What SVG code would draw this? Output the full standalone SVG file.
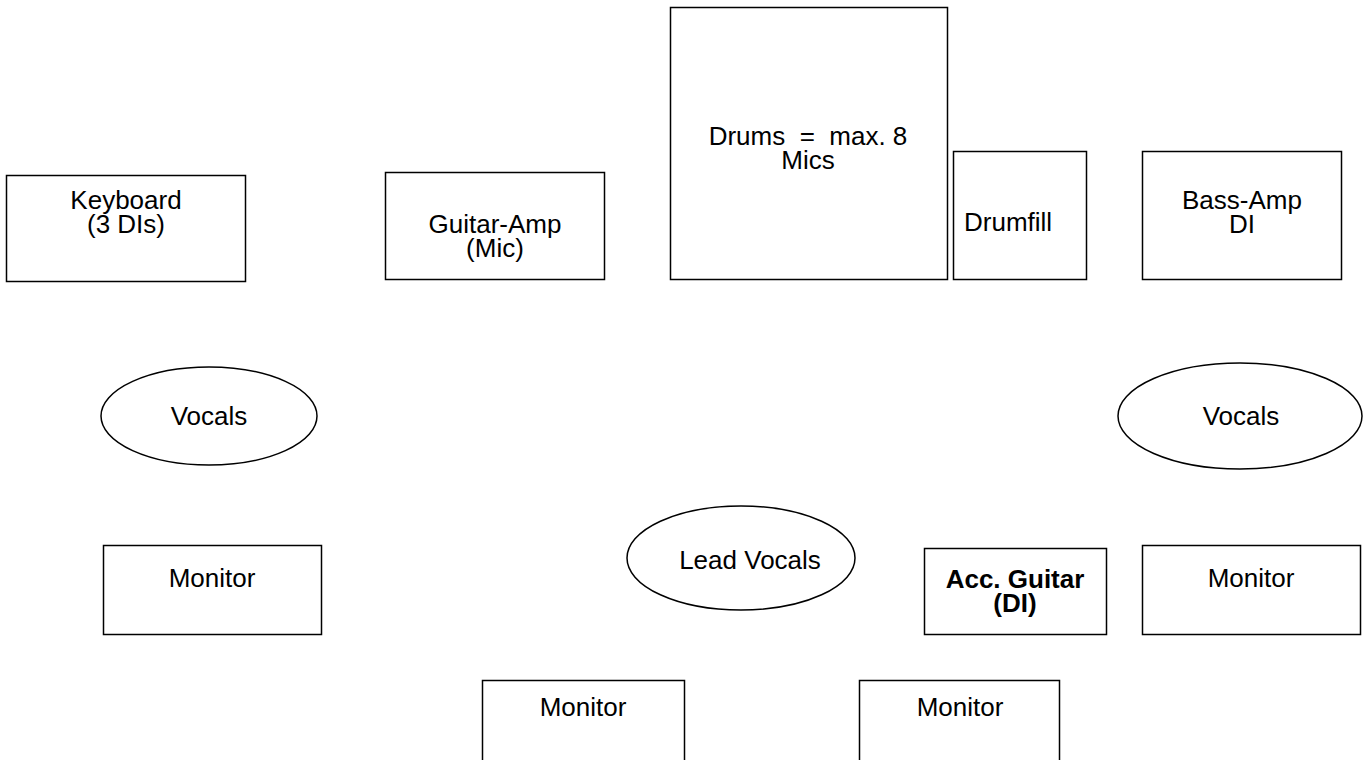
<svg xmlns="http://www.w3.org/2000/svg" width="1363" height="760" viewBox="0 0 1363 760">
<style>
.n{fill:#fff;stroke:#000;stroke-width:1.5}
.t{font-family:"Liberation Sans",Arial,sans-serif;font-size:26px;fill:#000;text-anchor:middle}
.s{text-anchor:start}
.b{font-weight:bold}
</style>
<rect width="1363" height="760" fill="#fff"/>
<g id="connectors"></g>
<g id="keyboard"><rect class="n" x="6.5" y="175.5" width="239" height="106"/><text class="t" x="126" y="209">Keyboard</text><text class="t" x="126" y="233">(3 DIs)</text></g>
<g id="guitar-amp"><rect class="n" x="385.5" y="172.5" width="219" height="107"/><text class="t" x="495" y="233">Guitar-Amp</text><text class="t" x="495" y="257">(Mic)</text></g>
<g id="drums"><rect class="n" x="670.5" y="7.5" width="277" height="272"/><text class="t" x="808" y="145" xml:space="preserve">Drums  =  max. 8</text><text class="t" x="808" y="169">Mics</text></g>
<g id="drumfill"><rect class="n" x="953.5" y="151.5" width="133" height="128"/><text class="t s" x="964" y="231">Drumfill</text></g>
<g id="bass-amp"><rect class="n" x="1142.5" y="151.5" width="199" height="128"/><text class="t" x="1242" y="209">Bass-Amp</text><text class="t" x="1242" y="233">DI</text></g>
<g id="vocals-left"><ellipse class="n" cx="209" cy="416" rx="108" ry="49"/><text class="t" x="209" y="425">Vocals</text></g>
<g id="vocals-right"><ellipse class="n" cx="1240" cy="416" rx="122" ry="53"/><text class="t" x="1241" y="425">Vocals</text></g>
<g id="monitor-left"><rect class="n" x="103.5" y="545.5" width="218" height="89"/><text class="t" x="212" y="587">Monitor</text></g>
<g id="lead-vocals"><ellipse class="n" cx="741" cy="558" rx="114" ry="52"/><text class="t" x="750" y="569">Lead Vocals</text></g>
<g id="acc-guitar"><rect class="n" x="924.5" y="548.5" width="182" height="86"/><text class="t b" x="1015" y="588">Acc. Guitar</text><text class="t b" x="1015" y="612">(DI)</text></g>
<g id="monitor-right"><rect class="n" x="1142.5" y="545.5" width="218" height="89"/><text class="t" x="1251" y="587">Monitor</text></g>
<g id="monitor-bottom-left"><rect class="n" x="482.5" y="680.5" width="202" height="90"/><text class="t" x="583" y="716">Monitor</text></g>
<g id="monitor-bottom-right"><rect class="n" x="859.5" y="680.5" width="200" height="90"/><text class="t" x="960" y="716">Monitor</text></g>
</svg>
